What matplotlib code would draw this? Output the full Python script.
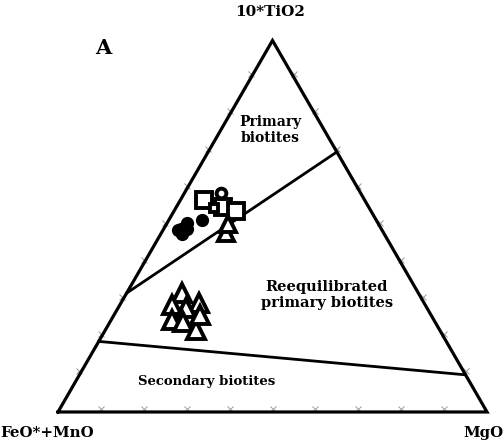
import numpy as np
import matplotlib
matplotlib.use("Agg")
import matplotlib.pyplot as plt

# ternary compositions as (FeO*+MnO, MgO, 10*TiO2) fractions
upper_squares = [(0.374, 0.055, 0.571), (0.339, 0.109, 0.552), (0.315, 0.144, 0.541)]
upper_small_sq = [(0.362, 0.089, 0.549)]
upper_circles = [(0.326, 0.085, 0.589)]
upper_triangles = [(0.367, 0.151, 0.482), (0.352, 0.143, 0.505)]
upper_filled = [(0.468, 0.040, 0.492), (0.452, 0.055, 0.493), (0.459, 0.050, 0.478),
                (0.475, 0.035, 0.490), (0.405, 0.078, 0.517), (0.445, 0.045, 0.510)]
lower_triangles = [(0.551, 0.129, 0.320), (0.525, 0.182, 0.293), (0.590, 0.122, 0.288),
                   (0.562, 0.158, 0.280), (0.610, 0.142, 0.248), (0.588, 0.170, 0.242),
                   (0.567, 0.212, 0.221), (0.539, 0.200, 0.261)]

# field boundaries (start, end) in the same ternary coordinates
line_primary = [(0.68, 0.0, 0.32), (0.0, 0.30, 0.70)]
line_secondary = [(0.81, 0.0, 0.19), (0.0, 0.90, 0.10)]

tick_fracs = np.arange(1, 10) / 10.0


def tern(pts):
    pts = np.asarray(pts, dtype=float)
    m, t = pts[:, 1], pts[:, 2]
    return m + t / 2, t * np.sqrt(3) / 2


fig = plt.figure(figsize=(5.04, 4.46), dpi=100)
ax = fig.add_axes([0, 0, 1, 1])
ax.set_xlim(-0.1352, 1.0396)
ax.set_ylim(-0.0793, 0.9604)
ax.axis("off")

serif = ["DejaVu Serif"]

# outer triangle
x, y = tern([(1, 0, 0), (0, 1, 0), (0, 0, 1), (1, 0, 0)])
ax.plot(x, y, color="black", lw=2.3, solid_joinstyle="miter", zorder=3)

# faint ticks along the edges
for f in tick_fracs:
    edge_pts = [(1 - f, f, 0), (1 - f, 0, f), (0, 1 - f, f)]
    ex, ey = tern(edge_pts)
    ax.plot(ex, ey + 0.008, linestyle="none", marker="x", ms=4, mew=0.7,
            color="#9a9a9a", zorder=2)

for ln in (line_primary, line_secondary):
    lx, ly = tern(ln)
    ax.plot(lx, ly, color="black", lw=2.0, zorder=3)

# samples
kw = dict(linestyle="none", mec="black", mfc="white", mew=2.8, zorder=4)
ax.plot(*tern(upper_squares), marker="s", ms=11, **kw)
ax.plot(*tern(upper_small_sq), marker="s", ms=6, **kw)
ax.plot(*tern(upper_circles), marker="o", ms=7, **kw)
ax.plot(*tern(upper_triangles), marker="^", ms=11, **kw)
ax.plot(*tern(lower_triangles), marker="^", ms=13, **kw)
ax.plot(*tern(upper_filled), linestyle="none", marker="o", ms=8.5, color="black", zorder=4)

# labels
ax.text(0.494, 0.657, "Primary\nbiotites", ha="center", va="center", fontsize=10,
        fontweight="bold", family=serif, linespacing=1.2)
ax.text(0.627, 0.273, "Reequilibrated\nprimary biotites", ha="center", va="center",
        fontsize=10.5, fontweight="bold", family=serif, linespacing=1.2)
ax.text(0.347, 0.072, "Secondary biotites", ha="center", va="center", fontsize=9.5,
        fontweight="bold", family=serif)
ax.text(0.494, 0.932, "10*TiO2", ha="center", va="center", fontsize=11,
        fontweight="bold", family=serif)
ax.text(-0.135, -0.049, "FeO*+MnO", ha="left", va="center", fontsize=10.8,
        fontweight="bold", family=serif)
ax.text(1.038, -0.049, "MgO", ha="right", va="center", fontsize=10.8,
        fontweight="bold", family=serif)
ax.text(0.105, 0.848, "A", ha="center", va="center", fontsize=15,
        fontweight="bold", family=serif)

fig.savefig("out.png", dpi=100)
